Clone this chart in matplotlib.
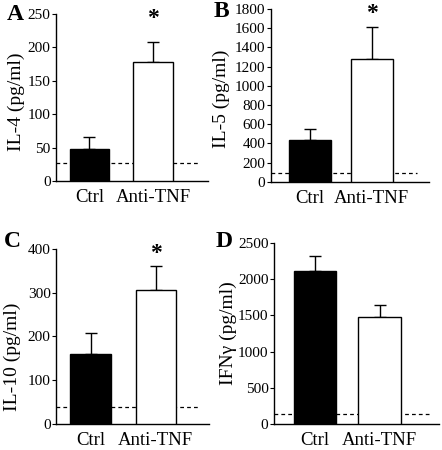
import numpy as np
from matplotlib import pyplot as plt

plt.rcParams['font.family'] = ['Liberation Serif', 'DejaVu Serif']

## data
groups   = ['Ctrl', 'Anti-TNF']
il4      = [48, 178]
il4_err  = [18, 30]
il5      = [440, 1280]
il5_err  = [114, 330]
il10     = [159, 305]
il10_err = [48, 56]
ifng     = [2108, 1476]
ifng_err = [207, 166]
baseline = [27, 87, 39, 143]          # dashed detection limit per panel
letters  = ['A', 'B', 'C', 'D']
ylabels  = ['IL-4 (pg/ml)', 'IL-5 (pg/ml)', 'IL-10 (pg/ml)', 'IFN\u03b3 (pg/ml)']
yticks   = [np.arange(0, 251, 50), np.arange(0, 1801, 200),
            np.arange(0, 401, 100), np.arange(0, 2501, 500)]
signif   = [True, True, True, False]

## layout per panel (figure fractions / axes units)
rects  = [[0.127, 0.598, 0.344, 0.371],
          [0.613, 0.596, 0.357, 0.384],
          [0.127, 0.058, 0.346, 0.389],
          [0.620, 0.058, 0.373, 0.402]]
xlims  = [(-0.52, 1.86), (-0.63, 1.92), (-0.53, 1.82), (-0.63, 1.91)]
dashx  = [1.73, 1.73, 1.68, 1.77]
widths = [0.62, 0.68, 0.62, 0.66]
letpos = [(0.016, 0.992), (0.484, 0.998), (0.008, 0.487), (0.488, 0.486)]
ylabxy = [(-0.204, 0.473), (-0.26, 0.48), (-0.232, 0.383), (-0.224, 0.50)]

vals = [il4, il5, il10, ifng]
errs = [il4_err, il5_err, il10_err, ifng_err]

fig = plt.figure(figsize=(4.42, 4.5), dpi=100)

for i in range(4):
    ax = fig.add_axes(rects[i])
    x = np.arange(len(groups))
    ax.bar(x, vals[i], width=widths[i], color=['black', 'white'],
           edgecolor='black', linewidth=1.0, zorder=3)
    ax.errorbar(x, vals[i], yerr=[[0, 0], errs[i]], fmt='none',
                ecolor='black', elinewidth=1.0, capsize=4, capthick=1.0, zorder=2)
    ax.plot([xlims[i][0], dashx[i]], [baseline[i], baseline[i]], color='black',
            lw=0.9, ls=(0, (3, 2.5)), zorder=1)
    ax.set_xlim(*xlims[i])
    ax.set_ylim(0, yticks[i][-1])
    ax.set_yticks(yticks[i])
    ax.set_xticks(x)
    ax.set_xticklabels(groups, fontsize=13.5)
    ax.tick_params(axis='x', length=0, pad=6)
    ax.tick_params(axis='y', length=3, pad=1, labelsize=11)
    for s in ['top', 'right']:
        ax.spines[s].set_visible(False)
    ax.spines['left'].set_linewidth(1.0)
    ax.spines['bottom'].set_linewidth(1.0)
    ax.set_ylabel(ylabels[i], fontsize=14)
    ax.yaxis.set_label_coords(*ylabxy[i])
    if signif[i]:
        ax.text(1, yticks[i][-1] * 0.975, '*', ha='center', va='center',
                fontsize=17, fontweight='bold', clip_on=False)
    fig.text(letpos[i][0], letpos[i][1], letters[i], fontsize=17,
             fontweight='bold', va='top', ha='left')

fig.savefig('out.png', dpi=100)
